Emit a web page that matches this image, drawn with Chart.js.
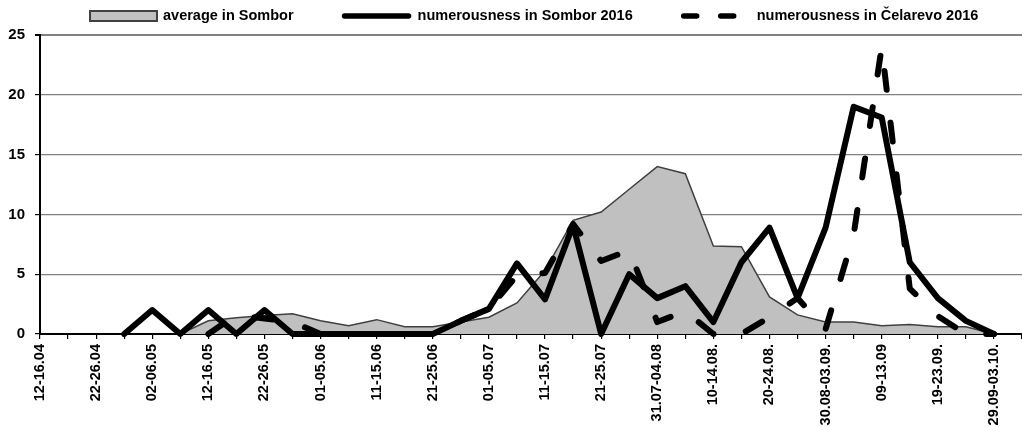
<!DOCTYPE html>
<html>
<head>
<meta charset="utf-8">
<script src="https://cdn.jsdelivr.net/npm/chart.js@4.4.1/dist/chart.umd.min.js"></script>
<style>
html,body{margin:0;padding:0;background:#fff;}
#wrap{width:1022px;height:427px;}
</style>
</head>
<body>
<div id="wrap"><canvas id="c" width="1022" height="427"></canvas></div>
<script>
// x tick labels (5-day periods, every second one labelled)
const tickLabels = ['12-16.04','','22-26.04','','02-06.05','','12-16.05','','22-26.05','','01-05.06','','11-15.06','','21-25.06','','01-05.07','','11-15.07','','21-25.07','','31.07-04.08','','10-14.08.','','20-24.08.','','30.08-03.09.','','09-13.09','','19-23.09.','','29.09-03.10.',''];
const yTicks = [0, 5, 10, 15, 20, 25];

const seriesNames = ['average in Sombor', 'numerousness in Sombor 2016', 'numerousness in Čelarevo 2016'];

const averageSombor = [null,null,null,null,null,0,1.1,1.35,1.55,1.7,1.1,0.7,1.2,0.6,0.6,1.0,1.4,2.6,5.3,9.5,10.2,12.1,14.0,13.4,7.35,7.3,3.1,1.6,1.0,1.0,0.7,0.8,0.6,0.6,0,null];
const sombor2016 = [null,null,null,0,2,0,2,0,2,0,0,0,0,0,0,1.1,2.1,5.9,2.9,9.1,0,5.0,3.0,4.0,1.0,6.0,8.9,3.0,8.9,19.0,18.1,6.0,3.0,1.1,0,null];
const celarevo2016 = [null,null,null,null,null,null,0,1.6,1.3,1.0,0,0,0,0,0,1.1,2.1,4.9,5.1,9.2,6.1,7.0,1.0,1.9,0,0,1.4,3.0,0.4,8.3,24.0,3.8,1.5,0,0,null];

const FONT = '"Liberation Sans", Arial, Helvetica, sans-serif';

const customLegend = {
  id: 'customLegend',
  afterDraw(chart) {
    const ctx = chart.ctx;
    ctx.save();
    ctx.font = 'bold 14.5px ' + FONT;
    ctx.textBaseline = 'middle';
    ctx.textAlign = 'left';
    let x = 90;
    const y = 16;
    chart.data.datasets.forEach((ds, i) => {
      let tx;
      if (ds.fill) {
        ctx.fillStyle = ds.backgroundColor;
        ctx.fillRect(x, y - 5, 67, 10);
        ctx.strokeStyle = ds.borderColor;
        ctx.lineWidth = 2;
        ctx.strokeRect(x, y - 5, 67, 10);
        tx = x + 73;
      } else {
        ctx.strokeStyle = ds.borderColor;
        ctx.lineWidth = 5.5;
        ctx.lineCap = 'round';
        ctx.setLineDash(ds.borderDash && ds.borderDash.length ? [13, 24] : []);
        ctx.beginPath();
        ctx.moveTo(x + 3, y);
        ctx.lineTo(x + 67, y);
        ctx.stroke();
        ctx.setLineDash([]);
        tx = x + 76;
      }
      ctx.fillStyle = '#000';
      ctx.fillText(ds.label, tx, y);
      x = tx + ctx.measureText(ds.label).width + 48;
    });
    ctx.restore();
  }
};

new Chart(document.getElementById('c'), {
  type: 'line',
  data: {
    labels: tickLabels,
    datasets: [
      {
        label: seriesNames[0],
        data: averageSombor,
        fill: 'origin',
        backgroundColor: '#c0c0c0',
        borderColor: '#404040',
        borderWidth: 1.5,
        pointRadius: 0,
        tension: 0,
        order: 3
      },
      {
        label: seriesNames[1],
        data: sombor2016,
        fill: false,
        borderColor: '#000',
        borderWidth: 6,
        borderJoinStyle: 'round',
        borderCapStyle: 'round',
        pointRadius: 0,
        tension: 0,
        order: 1,
        clip: 8
      },
      {
        label: seriesNames[2],
        data: celarevo2016,
        fill: false,
        borderColor: '#000',
        borderWidth: 6,
        borderDash: [19, 33],
        borderJoinStyle: 'round',
        borderCapStyle: 'round',
        pointRadius: 0,
        tension: 0,
        order: 2,
        clip: 8
      }
    ]
  },
  options: {
    responsive: false,
    devicePixelRatio: 1,
    animation: false,
    layout: { padding: { top: 35, right: 0, left: 0, bottom: 0 } },
    plugins: {
      legend: { display: false },
      tooltip: { enabled: false }
    },
    scales: {
      x: {
        type: 'category',
        offset: false,
        afterFit(scale) { scale.height = 93; scale.paddingRight = 0; scale.paddingLeft = 0; },
        grid: {
          display: true,
          drawOnChartArea: false,
          drawTicks: true,
          tickLength: 5,
          tickColor: '#000',
          color: '#000',
          lineWidth: 1.2
        },
        border: { display: true, color: '#000', width: 2 },
        ticks: {
          autoSkip: false,
          maxRotation: 90,
          minRotation: 90,
          padding: 5,
          color: '#000',
          font: { family: FONT, size: 14.5, weight: 'bold' }
        }
      },
      y: {
        min: 0,
        max: 25,
        afterFit(scale) { scale.width = 40; },
        afterBuildTicks(scale) { scale.ticks = yTicks.map(v => ({ value: v })); },
        grid: {
          color: '#808080',
          lineWidth: (c) => (c.tick && c.tick.value === 25 ? 2 : 1.2),
          drawTicks: true,
          tickLength: 5,
          tickColor: '#000'
        },
        border: { display: true, color: '#000', width: 2 },
        ticks: {
          padding: 10,
          color: '#000',
          font: { family: FONT, size: 15, weight: 'bold' }
        }
      }
    }
  },
  plugins: [customLegend]
});
</script>
</body>
</html>
